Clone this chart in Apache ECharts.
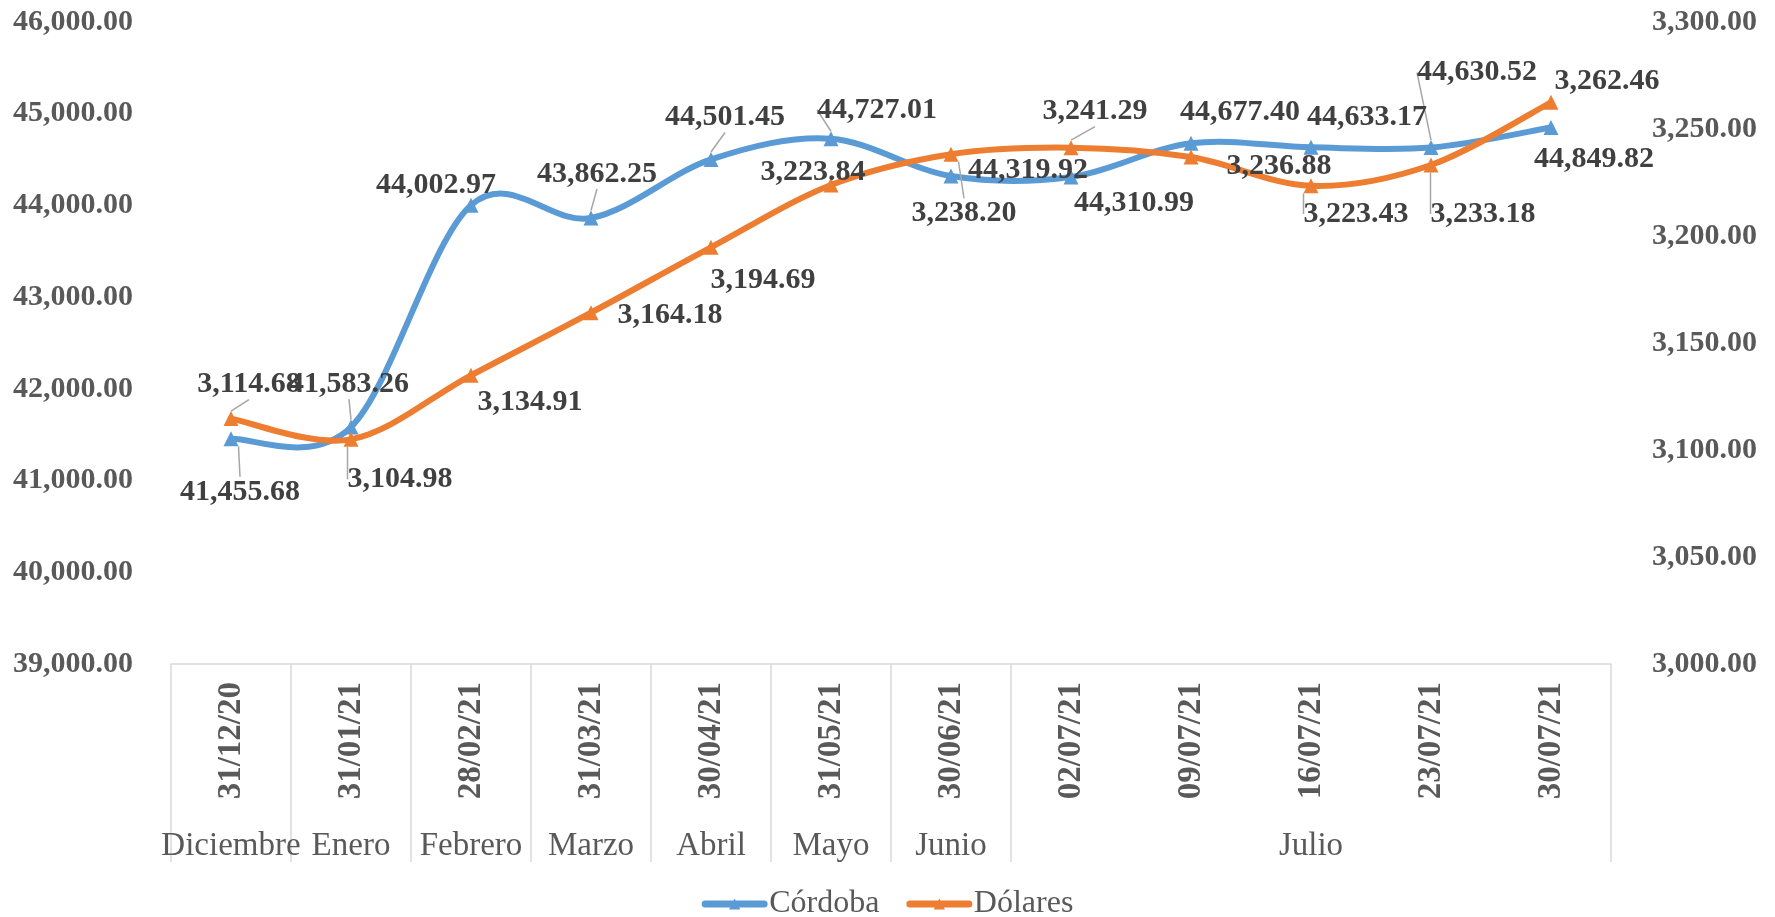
<!DOCTYPE html>
<html>
<head>
<meta charset="utf-8">
<script src="https://cdn.jsdelivr.net/npm/echarts@6/dist/echarts.min.js"></script>
<style>
  html, body { margin: 0; padding: 0; background: #fff; }
  #chart { width: 1775px; height: 917px; }
</style>
</head>
<body>
<div id="chart"></div>
<script>
// fechas de corte y meses
const dates = ['31/12/20', '31/01/21', '28/02/21', '31/03/21', '30/04/21', '31/05/21',
  '30/06/21', '02/07/21', '09/07/21', '16/07/21', '23/07/21', '30/07/21']
const months = ['Diciembre', 'Enero', 'Febrero', 'Marzo', 'Abril', 'Mayo', 'Junio', 'Julio']
const monthSpan = [1, 1, 1, 1, 1, 1, 1, 5]

// valores
const cordoba = [41455.68, 41583.26, 44002.97, 43862.25, 44501.45, 44727.01,
  44319.92, 44310.99, 44677.40, 44633.17, 44630.52, 44849.82]
const dolares = [3114.68, 3104.98, 3134.91, 3164.18, 3194.69, 3223.84,
  3238.20, 3241.29, 3236.88, 3223.43, 3233.18, 3262.46]

// ubicacion de etiquetas (dx, dy respecto al punto) y lineas guia
const cordobaLabelOffset = [[9, 53], [-2, -43], [-35, -20], [6, -44], [14, -42], [46, -29],
  [77, -6], [63, 26], [49, -31], [56, -30], [46, -75], [43, 32]]
const cordobaLeader = [true, true, false, true, true, true, false, false, false, false, true, false]
const dolaresLabelOffset = [[18, -34], [49, 40], [59, 27], [79, 3], [52, 33], [-18, -13],
  [13, 59], [24, -36], [88, 9], [45, 28], [52, 49], [56, -21]]
const dolaresLeader = [true, true, false, false, false, false, true, true, false, true, true, false]

const FONT = '"Liberation Serif", "Times New Roman", serif'
const AXIS_COLOR = '#595959'
const BLUE = '#5b9bd5'
const ORANGE = '#ed7d31'

function fmt (v) {
  const p = v.toFixed(2).split('.')
  p[0] = p[0].replace(/\B(?=(\d{3})+(?!\d))/g, ',')
  return p.join('.')
}

// limites y centros de cada mes sobre el eje de valores 0..12
const monthBounds = [0]
const monthCenters = []
monthSpan.forEach(s => {
  const start = monthBounds[monthBounds.length - 1]
  monthCenters.push(start + s / 2)
  monthBounds.push(start + s)
})

function buildData (values, leader) {
  return values.map((v, i) => ({ value: v, labelLine: { show: leader[i] } }))
}

// curva suavizada tipo Excel (bezier con puntos de control a 1/6)
function smoothPath (pts) {
  let d = 'M' + pts[0][0] + ',' + pts[0][1]
  for (let i = 0; i < pts.length - 1; i++) {
    const p0 = pts[Math.max(i - 1, 0)]
    const p1 = pts[i]
    const p2 = pts[i + 1]
    const p3 = pts[Math.min(i + 2, pts.length - 1)]
    const c1 = [p1[0] + (p2[0] - p0[0]) / 6, p1[1] + (p2[1] - p0[1]) / 6]
    const c2 = [p2[0] - (p3[0] - p1[0]) / 6, p2[1] - (p3[1] - p1[1]) / 6]
    d += ' C' + c1[0] + ',' + c1[1] + ' ' + c2[0] + ',' + c2[1] + ' ' + p2[0] + ',' + p2[1]
  }
  return d
}

function curveSeries (values, yIndex, color, z) {
  return {
    type: 'custom',
    coordinateSystem: 'cartesian2d',
    xAxisIndex: 0,
    yAxisIndex: yIndex,
    silent: true,
    z: z,
    data: [[0, values[0]]],
    renderItem: (params, api) => {
      const pts = values.map((v, i) => api.coord([i, v]))
      return {
        type: 'path',
        shape: { pathData: smoothPath(pts) },
        style: { fill: 'none', stroke: color, lineWidth: 6, lineCap: 'round', lineJoin: 'round' }
      }
    }
  }
}

function labelStyle () {
  return {
    show: true,
    position: 'inside',
    fontSize: 30,
    fontWeight: 'bold',
    color: '#404040',
    fontFamily: FONT,
    formatter: p => fmt(p.value)
  }
}

const chart = echarts.init(document.getElementById('chart'))

const options = {
  animation: false,
  textStyle: { fontFamily: FONT },
  grid: { left: 171, right: 164, top: 22, height: 642, containLabel: false },
  legend: {
    data: [
      { name: 'Córdoba', lineStyle: { color: BLUE, width: 7, opacity: 1, cap: 'round' } },
      { name: 'Dólares', lineStyle: { color: ORANGE, width: 7, opacity: 1, cap: 'round' } }
    ],
    left: 'center',
    top: 883,
    itemWidth: 59,
    itemHeight: 14,
    itemGap: 27,
    textStyle: { fontSize: 32, color: AXIS_COLOR, fontFamily: FONT }
  },
  xAxis: [
    {
      type: 'category',
      data: dates,
      position: 'bottom',
      axisLine: { show: false },
      axisTick: { show: false },
      axisLabel: {
        interval: 0,
        rotate: 90,
        margin: 18,
        fontSize: 33,
        fontWeight: 'bold',
        color: AXIS_COLOR,
        fontFamily: FONT
      }
    },
    {
      type: 'value',
      min: 0,
      max: 12,
      position: 'bottom',
      splitLine: { show: false },
      axisLine: { show: true, onZero: false, lineStyle: { color: '#d9d9d9', width: 1.5 } },
      axisTick: {
        show: true,
        customValues: monthBounds,
        length: 198,
        lineStyle: { color: '#d9d9d9', width: 1.5 }
      },
      axisLabel: {
        customValues: monthCenters,
        margin: 166,
        fontSize: 33,
        color: AXIS_COLOR,
        fontFamily: FONT,
        formatter: v => months[monthCenters.findIndex(c => Math.abs(c - v) < 1e-6)] || ''
      }
    }
  ],
  yAxis: [
    {
      type: 'value',
      min: 39000,
      max: 46000,
      interval: 1000,
      position: 'left',
      splitLine: { show: false },
      axisLine: { show: false },
      axisTick: { show: false },
      axisLabel: {
        margin: 38,
        fontSize: 30,
        fontWeight: 'bold',
        color: AXIS_COLOR,
        fontFamily: FONT,
        formatter: fmt
      }
    },
    {
      type: 'value',
      min: 3000,
      max: 3300,
      interval: 50,
      position: 'right',
      splitLine: { show: false },
      axisLine: { show: false },
      axisTick: { show: false },
      axisLabel: {
        margin: 41,
        fontSize: 30,
        fontWeight: 'bold',
        color: AXIS_COLOR,
        fontFamily: FONT,
        formatter: fmt
      }
    }
  ],
  series: [
    curveSeries(cordoba, 0, BLUE, 1),
    {
      name: 'Córdoba',
      type: 'line',
      xAxisIndex: 0,
      yAxisIndex: 0,
      symbol: 'triangle',
      symbolSize: 15,
      color: BLUE,
      z: 3,
      lineStyle: { width: 6, color: BLUE, opacity: 0 },
      data: buildData(cordoba, cordobaLeader),
      label: labelStyle(),
      labelLine: { show: true, lineStyle: { color: '#a6a6a6', width: 1.5 } },
      labelLayout: p => ({ dx: cordobaLabelOffset[p.dataIndex][0], dy: cordobaLabelOffset[p.dataIndex][1] })
    },
    curveSeries(dolares, 1, ORANGE, 2),
    {
      name: 'Dólares',
      type: 'line',
      xAxisIndex: 0,
      yAxisIndex: 1,
      symbol: 'triangle',
      symbolSize: 15,
      color: ORANGE,
      z: 4,
      lineStyle: { width: 6, color: ORANGE, opacity: 0 },
      data: buildData(dolares, dolaresLeader),
      label: labelStyle(),
      labelLine: { show: true, lineStyle: { color: '#a6a6a6', width: 1.5 } },
      labelLayout: p => ({ dx: dolaresLabelOffset[p.dataIndex][0], dy: dolaresLabelOffset[p.dataIndex][1] })
    }
  ]
}

chart.setOption(options)
</script>
</body>
</html>
